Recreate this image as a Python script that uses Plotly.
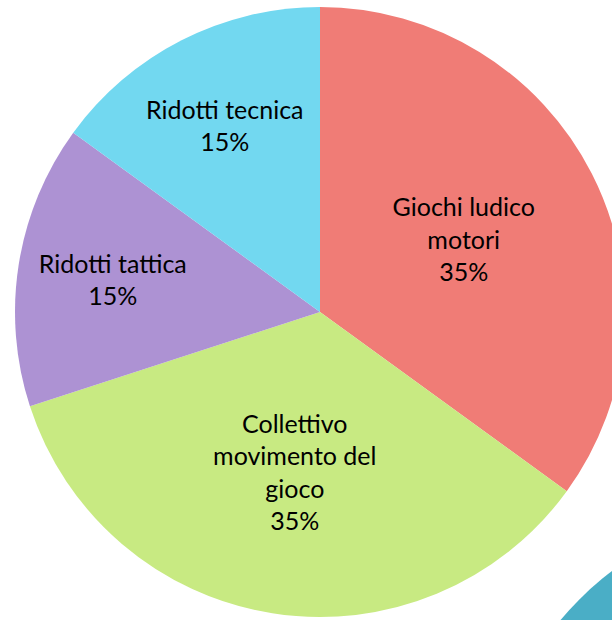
import plotly.graph_objects as go

labels = ["Giochi ludico<br>motori", "Collettivo<br>movimento del<br>gioco", "Ridotti tattica", "Ridotti tecnica"]
values = [35, 35, 15, 15]
colors = ["#F07C76", "#C8EA82", "#AD92D3", "#72D8F0"]

W, H = 626, 620
fig = go.Figure(go.Pie(
    labels=labels, values=values, sort=False, direction="clockwise", rotation=0,
    marker=dict(colors=colors, line=dict(width=0)),
    textinfo="label+percent", texttemplate="%{label}<br>%{percent:.0%}",
    textposition="inside", insidetextorientation="horizontal",
    textfont=dict(family="Lato", size=25, color="black"),
    hoverinfo="skip", showlegend=False,
    domain=dict(x=[15 / W, 625 / W], y=[3 / H, 613 / H]),
))
fig.update_layout(
    width=W, height=H, autosize=False,
    margin=dict(l=0, r=0, t=0, b=0),
    paper_bgcolor="white", plot_bgcolor="white",
    uniformtext=dict(minsize=25, mode="show"),
    shapes=[dict(type="circle", xref="paper", yref="paper", layer="below",
                 x0=(800 - 312) / W, x1=(800 + 312) / W,
                 y0=1 - (820 + 312) / H, y1=1 - (820 - 312) / H,
                 fillcolor="#4AAEC6", line=dict(width=0))],
)
fig.write_html("out.html", config={"displayModeBar": False},
               post_script="document.body.style.margin='0';document.body.style.overflow='hidden';document.documentElement.style.overflow='hidden';")
